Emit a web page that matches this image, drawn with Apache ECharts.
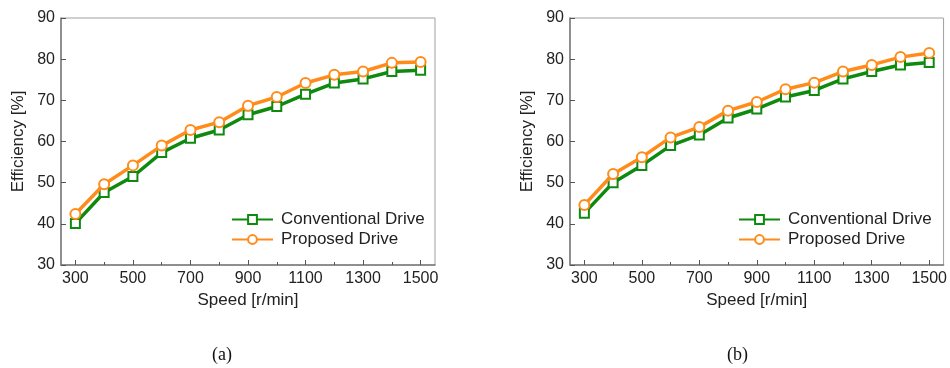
<!DOCTYPE html>
<html>
<head>
<meta charset="utf-8">
<script src="https://cdn.jsdelivr.net/npm/echarts@6/dist/echarts.min.js"></script>
<style>
html,body{margin:0;padding:0;background:#fff;}
#c{width:950px;height:368px;}
</style>
</head>
<body>
<div id="c"></div>
<script>
const speeds = [300,400,500,600,700,800,900,1000,1100,1200,1300,1400,1500];
const convA = [40.1,47.6,51.5,57.3,60.8,62.8,66.5,68.5,71.5,74.2,75.2,77.0,77.3];
const propA = [42.4,49.6,54.2,59.0,62.8,64.7,68.7,70.8,74.2,76.2,77.0,79.1,79.3];
const convB = [42.6,50.0,54.2,59.0,61.6,65.7,67.9,70.8,72.4,75.2,77.0,78.6,79.2];
const propB = [44.6,52.1,56.2,61.0,63.5,67.5,69.6,72.7,74.3,77.0,78.6,80.5,81.5];
const xMajor = [300,500,700,900,1100,1300,1500];
const xMinor = [400,600,800,1000,1200,1400];
const seriesNames = ['Conventional Drive','Proposed Drive'];
const panelLabels = ['(a)','(b)'];

const GREEN = '#0f8a0f';
const ORANGE = '#ff8c1a';
const font = 'Arial, "Liberation Sans", sans-serif';

const grids = [
  {left:61, top:18, width:374, height:247},
  {left:570, top:18, width:375, height:247}
];

function pairs(vals){ return speeds.map((s,i)=>[s,vals[i]]); }

const xAxes = [], yAxes = [], series = [], legends = [];
const gridOpts = grids.map(g => Object.assign({show:true, borderColor:'#a0a0a0', borderWidth:1, backgroundColor:'transparent'}, g));

[[convA,propA],[convB,propB]].forEach((d,gi)=>{
  xAxes.push({
    gridIndex:gi, type:'value', min:250, max:1550,
    name:'Speed [r/min]', nameLocation:'middle', nameGap:25,
    nameTextStyle:{fontFamily:font, fontSize:17, color:'#222'},
    axisLine:{show:true, lineStyle:{color:'#7a7a7a', width:1.5}},
    axisTick:{show:true, inside:true, length:5, customValues:xMajor, lineStyle:{color:'#555'}},
    axisLabel:{customValues:xMajor, formatter:v=>String(v), fontFamily:font, fontSize:16, color:'#222', margin:6},
    splitLine:{show:false}
  });
  xAxes.push({
    gridIndex:gi, type:'value', min:250, max:1550, position:'bottom',
    axisLine:{show:false},
    axisTick:{show:true, inside:true, length:3, customValues:xMinor, lineStyle:{color:'#555'}},
    axisLabel:{show:false}, splitLine:{show:false}
  });
  yAxes.push({
    gridIndex:gi, type:'value', min:30, max:90, interval:10,
    name:'Efficiency [%]', nameLocation:'middle', nameGap:34, nameRotate:90,
    nameTextStyle:{fontFamily:font, fontSize:17, color:'#222'},
    axisLine:{show:true, lineStyle:{color:'#7a7a7a', width:1.5}},
    axisTick:{show:true, inside:true, length:5, lineStyle:{color:'#555'}},
    axisLabel:{fontFamily:font, fontSize:16, color:'#222', margin:6},
    splitLine:{show:false}
  });
  const xi = gi*2;
  series.push({
    name:seriesNames[0], type:'line', xAxisIndex:xi, yAxisIndex:gi,
    data:pairs(d[0]), symbol:'emptyRect', symbolSize:9,
    lineStyle:{color:GREEN, width:3.5},
    itemStyle:{color:GREEN, borderColor:'#25a025', borderWidth:1.5},
    z:3
  });
  series.push({
    name:seriesNames[1], type:'line', xAxisIndex:xi, yAxisIndex:gi,
    data:pairs(d[1]), symbol:'emptyCircle', symbolSize:10,
    lineStyle:{color:ORANGE, width:3.5},
    itemStyle:{color:ORANGE, borderColor:ORANGE, borderWidth:1.5},
    z:4
  });
});

[231, 738].forEach(l=>{
  legends.push({
    left:l, top:211, orient:'vertical', itemWidth:41, itemHeight:11, itemGap:3,
    data:seriesNames, textStyle:{fontFamily:font, fontSize:17, color:'#222', padding:[0,0,0,3]},
    padding:0
  });
});

const chart = echarts.init(document.getElementById('c'), null, {renderer:'canvas'});
chart.setOption({
  animation:false,
  backgroundColor:'#fff',
  grid:gridOpts,
  xAxis:xAxes,
  yAxis:yAxes,
  legend:legends,
  series:series,
  graphic:[
    {type:'text', left:212, top:346, style:{text:panelLabels[0], font:'18px "Liberation Serif", "DejaVu Serif", serif', fill:'#111'}},
    {type:'text', left:727, top:346, style:{text:panelLabels[1], font:'18px "Liberation Serif", "DejaVu Serif", serif', fill:'#111'}}
  ]
});
</script>
</body>
</html>
